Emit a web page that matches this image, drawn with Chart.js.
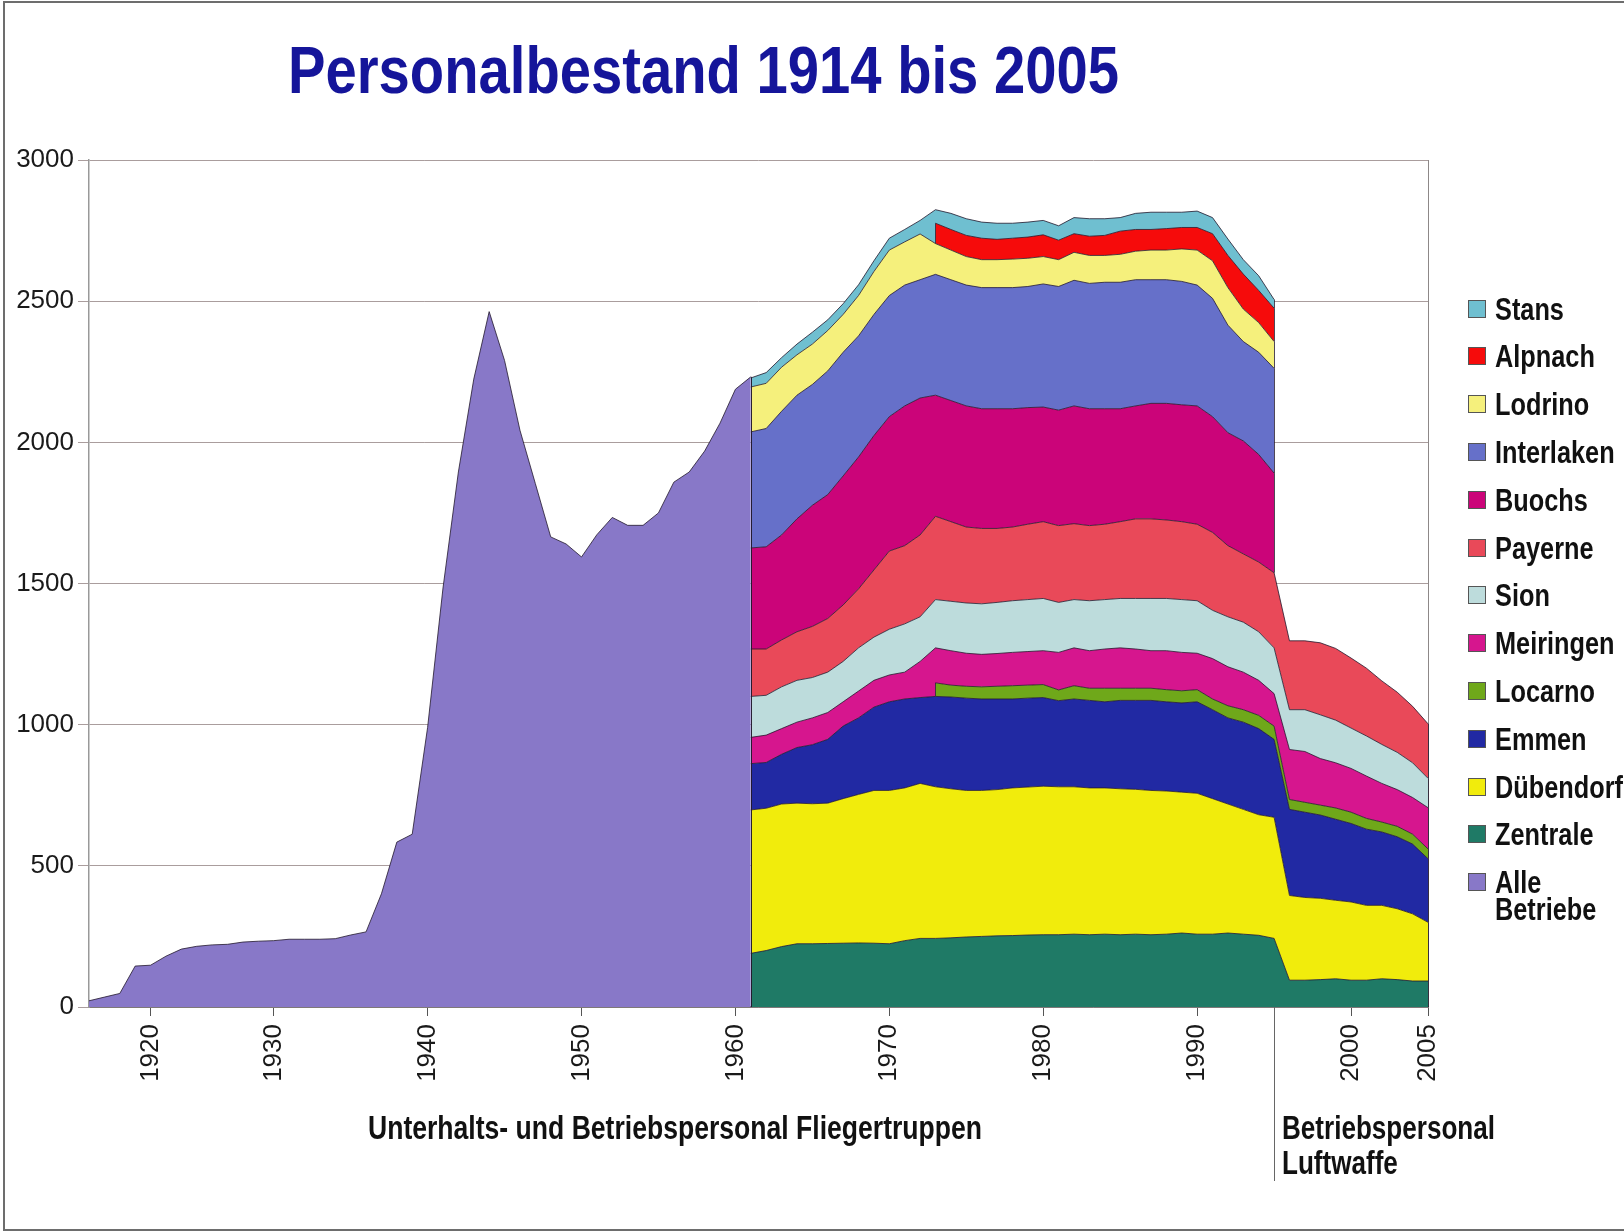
<!DOCTYPE html>
<html lang="de">
<head>
<meta charset="utf-8">
<title>Personalbestand 1914 bis 2005</title>
<script src="https://cdn.jsdelivr.net/npm/chart.js@4.4.1/dist/chart.umd.min.js"></script>
<style>
  html, body { margin: 0; padding: 0; background: #fff; }
  body { position: relative; width: 1624px; height: 1232px; overflow: hidden; font-family: "Liberation Sans", Arial, sans-serif; }
  #frame { position: absolute; left: 3px; top: 1px; width: 1700px; height: 1226px; border: 2px solid #6d6d6d; }
  #chart { position: absolute; left: 0; top: 0; }
  .bold { position: absolute; font-weight: bold; white-space: nowrap; transform-origin: 0 50%; }
  #title { left: 288px; top: 37px; font-size: 66px; line-height: 66px; color: #15159a; }
  .caption { font-size: 33px; line-height: 33px; color: #111; }
  .item { position: absolute; left: 1468px; width: 170px; height: 32px; }
  .box { position: absolute; left: 0; top: 7px; width: 16px; height: 16px; border: 1px solid #555; }
  .label { left: 27px; top: 0; font-size: 32px; line-height: 32px; color: #111; }
</style>
</head>
<body>
<div id="frame"></div>
<canvas id="chart" width="1624" height="1232"></canvas>
<div id="title" class="bold">Personalbestand 1914 bis 2005</div>
<div id="cap1" class="bold caption" style="left:368px;top:1111px">Unterhalts- und Betriebspersonal Fliegertruppen</div>
<div id="cap2" class="bold caption" style="left:1282px;top:1111px">Betriebspersonal</div>
<div id="cap3" class="bold caption" style="left:1282px;top:1146px">Luftwaffe</div>
<div id="legend"></div>
<script>
// Jahre (einige fruehe Jahre fehlen in der Vorlage)
const years = [1914, 1916, 1918, 1919, 1920, 1921, 1922, 1923, 1924, 1925, 1926, 1928,
  1930, 1931, 1932, 1933, 1934, 1935, 1936, 1937, 1938, 1939, 1940, 1941, 1942, 1943, 1944,
  1945, 1946, 1947, 1948, 1949, 1950, 1951, 1952, 1953, 1954, 1955, 1956, 1957, 1958, 1959,
  1960, 1961, 1962, 1963, 1964, 1965, 1966, 1967, 1968, 1969, 1970, 1971, 1972, 1973, 1974,
  1975, 1976, 1977, 1978, 1979, 1980, 1981, 1982, 1983, 1984, 1985, 1986, 1987, 1988, 1989,
  1990, 1991, 1992, 1993, 1994, 1995, 1996, 1997, 1998, 1999, 2000, 2001, 2002, 2003, 2004, 2005];
const tickYears = [1920, 1930, 1940, 1950, 1960, 1970, 1980, 1990, 2000, 2005];
const yTicks = [0, 500, 1000, 1500, 2000, 2500, 3000];

// Alle Betriebe, 1914 bis 1961
const alleBetriebe = [22, 35, 48, 145, 148, 180, 205, 215, 220, 222, 230, 233,
  235, 240, 240, 240, 242, 255, 266, 401, 584, 612, 990, 1484, 1895, 2224, 2463,
  2290, 2043, 1854, 1665, 1640, 1594, 1673, 1734, 1706, 1706, 1750, 1859, 1895, 1969, 2068,
  2188, 2232];

// Betriebe 1961 bis 2005
const zentrale = [190, 200, 214, 224, 224, 225, 226, 227, 226, 224,
  235, 243, 243, 245, 248, 250, 252, 253, 255, 256,
  256, 258, 256, 258, 256, 258, 256, 258, 262, 258,
  258, 262, 258, 254, 243,
  95, 95, 97, 100, 95, 95, 100, 97, 92, 92];
const duebendorf = [508, 504, 505, 498, 496, 497, 512, 526, 541, 543,
  541, 549, 537, 528, 519, 517, 518, 523, 524, 526,
  524, 522, 520, 518, 517, 513, 511, 507, 499, 499,
  480, 457, 442, 427, 429,
  300, 293, 288, 278, 277, 265, 260, 251, 238, 208];
const emmen = [164, 162, 176, 197, 209, 226, 257, 271, 295, 314,
  315, 304, 320, 325, 327, 324, 321, 315, 315, 314,
  305, 311, 310, 305, 313, 315, 319, 316, 316, 324,
  315, 305, 309, 305, 276,
  305, 302, 295, 287, 278, 270, 260, 255, 247, 225];
const locarno = [null, null, null, null, null, null, null, null, null, null,
  null, null, 48, 42, 42, 43, 45, 47, 46, 46,
  38, 47, 43, 48, 43, 43, 43, 43, 43, 43,
  38, 43, 44, 47, 47,
  35, 35, 35, 40, 40, 38, 35, 37, 35, 35];
const meiringen = [93, 97, 91, 90, 95, 95, 86, 95, 95, 95,
  95, 128, 124, 122, 117, 115, 116, 118, 119, 120,
  133, 134, 133, 139, 143, 139, 133, 138, 136, 129,
  143, 138, 133, 124, 115,
  177, 180, 165, 160, 155, 150, 137, 130, 130, 146];
const sion = [145, 141, 148, 148, 143, 143, 143, 153, 153, 162,
  171, 158, 171, 175, 178, 179, 181, 183, 184, 185,
  177, 171, 177, 175, 175, 179, 185, 185, 187, 186,
  171, 177, 177, 172, 162,
  141, 148, 155, 151, 143, 142, 138, 132, 123, 104];
const payerne = [168, 164, 166, 172, 181, 190, 200, 209, 238, 277,
  277, 290, 295, 282, 269, 267, 262, 261, 267, 272,
  272, 269, 266, 267, 272, 282, 282, 278, 276, 271,
  276, 252, 242, 247, 266,
  244, 244, 255, 254, 248, 240, 225, 213, 200, 193];
const buochs = [358, 362, 372, 400, 429, 439, 457, 467, 476, 476,
  495, 485, 429, 429, 429, 424, 424, 419, 413, 406,
  409, 417, 414, 409, 400, 400, 409, 413, 414, 419,
  410, 400, 400, 381, 353,
  null, null, null, null, null, null, null, null, null, null];
const interlaken = [411, 419, 438, 438, 428, 438, 438, 429, 429, 429,
  428, 419, 428, 428, 428, 429, 429, 429, 429, 436,
  438, 445, 444, 448, 448, 447, 438, 438, 437, 428,
  419, 381, 352, 362, 371,
  null, null, null, null, null, null, null, null, null, null];
const lodrino = [159, 160, 156, 143, 143, 143, 134, 143, 152, 161,
  153, 162, 109, 105, 101, 99, 99, 101, 100, 97,
  95, 99, 99, 95, 99, 101, 105, 105, 115, 124,
  133, 133, 115, 105, 95,
  null, null, null, null, null, null, null, null, null, null];
const alpnach = [null, null, null, null, null, null, null, null, null, null,
  null, null, 72, 73, 75, 76, 72, 74, 75, 77,
  69, 66, 68, 71, 82, 77, 73, 76, 76, 80,
  96, 114, 124, 114, 118,
  null, null, null, null, null, null, null, null, null, null];
const stans = [32, 38, 34, 38, 42, 38, 38, 38, 38, 42,
  44, 48, 48, 57, 59, 57, 57, 53, 53, 51,
  51, 57, 62, 59, 48, 57, 61, 58, 54, 58,
  57, 58, 51, 52, 31,
  null, null, null, null, null, null, null, null, null, null];

// von unten nach oben gestapelt
const stationNames = ["Zentrale", "Dübendorf", "Emmen", "Locarno", "Meiringen", "Sion",
  "Payerne", "Buochs", "Interlaken", "Lodrino", "Alpnach", "Stans"];
const stationValues = [zentrale, duebendorf, emmen, locarno, meiringen, sion,
  payerne, buochs, interlaken, lodrino, alpnach, stans];
const stationColors = ["#1f7a66", "#f1ec0c", "#2129a3", "#6fa81a", "#d6168e", "#bddcdc",
  "#e94959", "#cb0479", "#6670c9", "#f5f07c", "#f60b0b", "#6fbfd0"];
const alleColor = "#8878c8";
const firstStationYear = 1961;

const outline = "rgba(35,25,45,0.8)";

const datasets = stationNames.map((name, k) => ({
  label: name,
  data: years.map((y) => (y >= firstStationYear ? stationValues[k][y - firstStationYear] : null)),
  backgroundColor: stationColors[k],
  borderColor: outline,
  borderWidth: 1,
  fill: "stack",
  stack: "betriebe",
  pointRadius: 0,
}));

datasets.push({
  label: "Alle Betriebe",
  data: years.map((y, i) => (i < alleBetriebe.length ? alleBetriebe[i] : null)),
  backgroundColor: alleColor,
  borderColor: outline,
  borderWidth: 1,
  fill: "origin",
  stack: "alle",
  pointRadius: 0,
});

// senkrechte Kanten an Anfang und Ende der Flaechen, Trennlinie 1995
const edgePlugin = {
  id: "edges",
  afterDatasetsDraw(chart) {
    const { ctx, scales, chartArea } = chart;
    const x = scales.x;
    const y = scales.y;
    ctx.save();
    ctx.strokeStyle = outline;
    ctx.lineWidth = 1;
    stationNames.forEach((name, k) => {
      const data = chart.data.datasets[k].data;
      data.forEach((v, i) => {
        if (v == null) return;
        if (data[i - 1] != null && data[i + 1] != null) return;
        let below = 0;
        for (let j = 0; j < k; j++) {
          const b = chart.data.datasets[j].data[i];
          if (b != null) below += b;
        }
        const px = Math.round(x.getPixelForValue(i)) + 0.5;
        ctx.beginPath();
        ctx.moveTo(px, y.getPixelForValue(below + v));
        ctx.lineTo(px, y.getPixelForValue(below));
        ctx.stroke();
      });
    });
    const last = alleBetriebe.length - 1;
    const pxAlle = Math.round(x.getPixelForValue(last)) + 0.5;
    ctx.beginPath();
    ctx.moveTo(pxAlle, y.getPixelForValue(alleBetriebe[last]));
    ctx.lineTo(pxAlle, y.getPixelForValue(0));
    ctx.stroke();

    const pxSep = Math.round(x.getPixelForValue(years.indexOf(1995))) + 0.5;
    ctx.strokeStyle = "#666";
    ctx.beginPath();
    ctx.moveTo(pxSep, chartArea.bottom);
    ctx.lineTo(pxSep, 1181);
    ctx.stroke();
    ctx.restore();
  },
};

const tickFont = { family: "'Liberation Sans', Arial, sans-serif", size: 26 };

new Chart(document.getElementById("chart"), {
  type: "line",
  data: { labels: years, datasets },
  options: {
    responsive: false,
    animation: false,
    devicePixelRatio: 1,
    layout: { padding: { left: 0, top: 160, right: 196, bottom: 145 } },
    plugins: { legend: { display: false }, tooltip: { enabled: false } },
    elements: { line: { tension: 0 } },
    scales: {
      x: {
        type: "category",
        offset: false,
        grid: {
          color: (c) => (c.index === years.length - 1 ? "#8d8888" : "transparent"),
          tickColor: (c) => (tickYears.includes(years[c.index]) ? "#555" : "transparent"),
          tickLength: 9,
        },
        border: { color: "#555", width: 1.5 },
        ticks: {
          autoSkip: false,
          maxRotation: 90,
          minRotation: 90,
          padding: 8,
          color: "#1a1a1a",
          font: tickFont,
          callback: (v, i) => (tickYears.includes(years[i]) ? String(years[i]) : ""),
        },
        afterFit: (s) => { s.height = 80; },
      },
      y: {
        stacked: true,
        min: yTicks[0],
        max: yTicks[yTicks.length - 1],
        grid: { color: "#aa9d9d", tickLength: 11 },
        border: { color: "#999", width: 1.5 },
        ticks: {
          stepSize: 500,
          padding: 4,
          color: "#1a1a1a",
          font: tickFont,
          callback: (v) => String(v),
        },
        afterFit: (s) => { s.width = 89; },
      },
    },
  },
  plugins: [edgePlugin],
});

// Legende wie in der Vorlage: Stans oben, Alle Betriebe unten
const legend = document.getElementById("legend");
const legendItems = stationNames.map((n, k) => ({ name: n, color: stationColors[k] })).reverse();
legendItems.push({ name: "Alle<br>Betriebe", color: alleColor });
const labels = [];
legendItems.forEach((it, i) => {
  const center = 308.6 + 47.8 * i;
  const div = document.createElement("div");
  div.className = "item";
  div.style.top = (center - 16) + "px";
  const box = document.createElement("div");
  box.className = "box";
  box.style.background = it.color;
  const lab = document.createElement("div");
  lab.className = "bold label";
  lab.innerHTML = it.name;
  if (it.name.includes("<br>")) {
    lab.style.lineHeight = "27px";
    lab.style.top = "3px";
  }
  div.appendChild(box);
  div.appendChild(lab);
  legend.appendChild(div);
  labels.push(lab);
});

function squeeze(el, width) {
  const natural = el.getBoundingClientRect().width;
  const k = width / natural;
  el.style.transform = "scaleX(" + k + ")";
  return k;
}

squeeze(document.getElementById("title"), 831);
squeeze(document.getElementById("cap1"), 614);
const kCap = squeeze(document.getElementById("cap2"), 213);
document.getElementById("cap3").style.transform = "scaleX(" + kCap + ")";
const kLegend = squeeze(labels[legendItems.findIndex((it) => it.name === "Dübendorf")], 128);
labels.forEach((l) => { l.style.transform = "scaleX(" + kLegend + ")"; });
</script>
</body>
</html>
